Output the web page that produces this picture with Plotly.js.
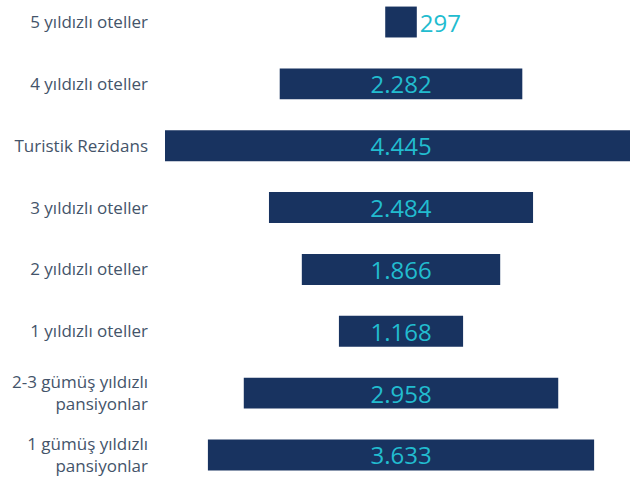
<!DOCTYPE html>
<html>
<head>
<meta charset="utf-8">
<script src="https://cdn.plot.ly/plotly-3.0.1.min.js"></script>
<style>html,body{margin:0;padding:0;background:#fff;}#chart{width:630px;height:477px;}</style>
</head>
<body>
<div id="chart"></div>
<script>
const categories = [
  "5 yıldızlı oteller",
  "4 yıldızlı oteller",
  "Turistik Rezidans",
  "3 yıldızlı oteller",
  "2 yıldızlı oteller",
  "1 yıldızlı oteller",
  "2-3 gümüş yıldızlı<br>pansiyonlar",
  "1 gümüş yıldızlı<br>pansiyonlar"
];
const values = [297, 2282, 4445, 2484, 1866, 1168, 2958, 3633];
const textPositions = ["outside", "inside", "inside", "inside", "inside", "inside", "inside", "inside"];

const barColor = "#183360";
const valueColor = "#22bccf";
const labelColor = "#44546a";

const trace = {
  type: "funnel",
  y: categories,
  x: values,
  texttemplate: "%{x:,}",
  textposition: textPositions,
  insidetextanchor: "middle",
  constraintext: "none",
  textfont: {family: "Open Sans", size: 24, color: valueColor},
  insidetextfont: {family: "Open Sans", size: 24, color: valueColor},
  outsidetextfont: {family: "Open Sans", size: 24, color: valueColor},
  marker: {color: barColor, line: {width: 0}},
  connector: {visible: false},
  hoverinfo: "none",
  cliponaxis: true
};

const layout = {
  width: 630,
  height: 477,
  margin: {l: 165, r: 0, t: 0, b: 0, pad: 0},
  paper_bgcolor: "#ffffff",
  plot_bgcolor: "#ffffff",
  separators: ",.",
  funnelgap: 0.5,
  showlegend: false,
  xaxis: {range: [-2220, 2154], visible: false, showgrid: false, zeroline: false, fixedrange: true},
  yaxis: {
    range: [7.356, -0.356],
    autorange: false,
    showgrid: false,
    zeroline: false,
    showline: false,
    ticks: "",
    ticklabelstandoff: 16,
    tickfont: {family: "Open Sans", size: 17, color: labelColor},
    fixedrange: true
  }
};

Plotly.newPlot("chart", [trace], layout, {displayModeBar: false, staticPlot: true});
</script>
</body>
</html>
